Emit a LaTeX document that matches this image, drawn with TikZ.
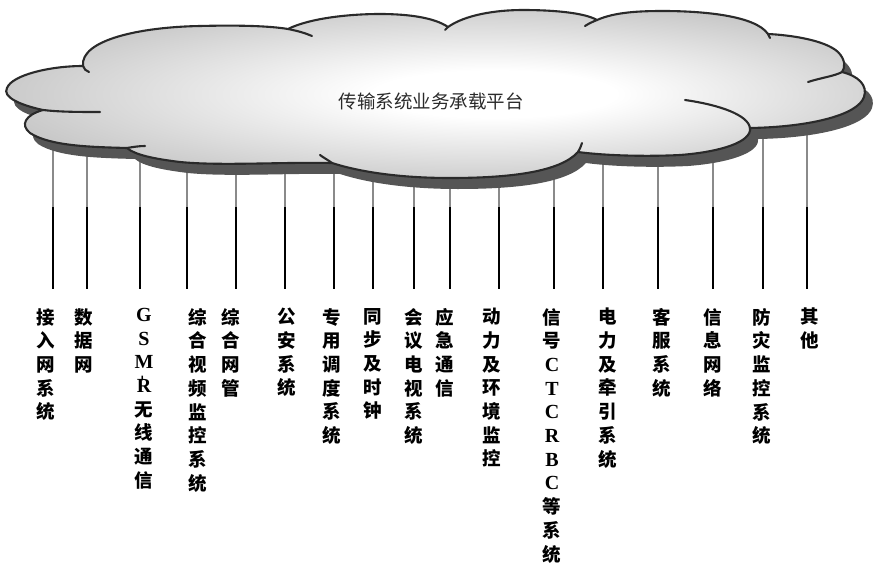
\documentclass[tikz,border=0pt]{standalone}
\usepackage{fontspec}
\setmainfont{Liberation Serif}
\newfontfamily\cjk{Noto Sans CJK SC}
\definecolor{outl}{HTML}{2A2A2A}
\definecolor{shad}{HTML}{555555}
\definecolor{ttl}{HTML}{2A2A2A}
\definecolor{upline}{HTML}{8A8A8A}
\pgfdeclareradialshading{cloudshade}{\pgfpoint{4bp}{0bp}}{color(0bp)=(white); color(7bp)=(white); color(30bp)=(black!24); color(50bp)=(black!28)}
\newcommand{\lat}[1]{{\rmfamily\bfseries\fontsize{20}{23.7}\selectfont #1}}
\tikzset{
  lab/.style={anchor=north, align=center, inner sep=0pt, font=\cjk\bfseries\fontsize{18.5}{23.7}\selectfont},
  uppart/.style={draw=upline, line width=1.2pt},
  lowpart/.style={draw=black, line width=1.5pt},
  outline/.style={draw=outl, line width=2.1pt, line cap=round},
}
\begin{document}
\begin{tikzpicture}[x=1pt,y=-1pt]
\useasboundingbox (0,0) rectangle (873,565);
% connector coordinates
\foreach \i/\x in {1/53,2/87,3/140,4/187,5/236,6/285,7/334,8/373,9/414,10/450,11/499,12/554,13/603,14/658,15/713,16/763,17/807}{
  \coordinate (t\i) at (\x,120);
  \coordinate (m\i) at (\x,207);
  \coordinate (b\i) at (\x,289);
}
\foreach \i in {1,...,17}{
  \draw[uppart] (t\i) -- (m\i);
  \draw[lowpart] (m\i) -- (b\i);
}
% shadow
\fill[shad, shift={(8,11)}] (83,66) .. controls (80,40) and (140,27) .. (200,26) .. controls (240,25) and (270,26) .. (288,29) .. controls (310,18) and (350,14) .. (380,14) .. controls (410,14) and (435,18) .. (448,27) .. controls (465,15) and (495,10) .. (523,10) .. controls (555,10) and (585,13) .. (597,20) .. controls (615,12) and (640,11) .. (663,11) .. controls (700,11) and (755,15) .. (768,34) .. controls (790,35) and (825,40) .. (838,52) .. controls (846,60) and (845,68) .. (842,72) .. controls (858,76) and (868,85) .. (864,97) .. controls (858,115) and (810,127) .. (750,128) .. controls (752,142) and (720,152) .. (680,155) .. controls (640,157) and (600,155) .. (578,152) .. controls (560,172) and (510,178) .. (450,178) .. controls (400,178) and (360,172) .. (332,163) .. controls (280,162) and (220,166) .. (180,162) .. controls (155,159) and (135,155) .. (127,148) .. controls (90,147) and (50,146) .. (30,133) .. controls (20,125) and (25,115) .. (43,110) .. controls (20,105) and (2,97) .. (7,88) .. controls (12,75) and (50,66) .. (83,66) -- cycle;
% cloud
\path[shading=cloudshade, outline] (83,66) .. controls (80,40) and (140,27) .. (200,26) .. controls (240,25) and (270,26) .. (288,29) .. controls (310,18) and (350,14) .. (380,14) .. controls (410,14) and (435,18) .. (448,27) .. controls (465,15) and (495,10) .. (523,10) .. controls (555,10) and (585,13) .. (597,20) .. controls (615,12) and (640,11) .. (663,11) .. controls (700,11) and (755,15) .. (768,34) .. controls (790,35) and (825,40) .. (838,52) .. controls (846,60) and (845,68) .. (842,72) .. controls (858,76) and (868,85) .. (864,97) .. controls (858,115) and (810,127) .. (750,128) .. controls (752,142) and (720,152) .. (680,155) .. controls (640,157) and (600,155) .. (578,152) .. controls (560,172) and (510,178) .. (450,178) .. controls (400,178) and (360,172) .. (332,163) .. controls (280,162) and (220,166) .. (180,162) .. controls (155,159) and (135,155) .. (127,148) .. controls (90,147) and (50,146) .. (30,133) .. controls (20,125) and (25,115) .. (43,110) .. controls (20,105) and (2,97) .. (7,88) .. controls (12,75) and (50,66) .. (83,66) -- cycle;
% lobe tails
\draw[outline] (83,66) .. controls (84,69) and (86,71) .. (89,72);
\draw[outline] (288,29) .. controls (298,31) and (305,33) .. (312,36);
\draw[outline] (448,27) -- (445,30);
\draw[outline] (597,20) .. controls (592,22) and (588,24) .. (585,26);
\draw[outline] (768,34) -- (770,38);
\draw[outline] (842,72) .. controls (835,76) and (820,78) .. (808,82);
\draw[outline] (750,128) .. controls (748,115) and (720,105) .. (685,100);
\draw[outline] (578,152) .. controls (580,149) and (581,146) .. (582,143);
\draw[outline] (332,163) .. controls (328,160) and (324,158) .. (320,155);
\draw[outline] (127,148) .. controls (133,147) and (139,146) .. (145,146);
\draw[outline] (43,110) .. controls (60,112) and (80,112) .. (100,112);
% title
\node[font=\cjk\fontsize{18.5}{20}\selectfont, text=ttl, inner sep=0pt] (title) at (431,101) {传输系统业务承载平台};
% labels
\node[lab] (l1) at (46,308) {接\\入\\网\\系\\统};
\node[lab] (l2) at (84,308) {数\\据\\网};
\node[lab] (l3) at (144,308) {\lat{G}\\\lat{S}\\\lat{M}\\\lat{R}\\无\\线\\通\\信};
\node[font=\rmfamily\bfseries\fontsize{18}{18}\selectfont, rotate=90, inner sep=0pt] (hy) at (144,378) {-};
\node[lab] (l4) at (198,308) {综\\合\\视\\频\\监\\控\\系\\统};
\node[lab] (l5) at (231,308) {综\\合\\网\\管};
\node[lab] (l6) at (287,308) {公\\安\\系\\统};
\node[lab] (l7) at (332,308) {专\\用\\调\\度\\系\\统};
\node[lab] (l8) at (373,308) {同\\步\\及\\时\\钟};
\node[lab] (l9) at (414,308) {会\\议\\电\\视\\系\\统};
\node[lab] (l10) at (445,308) {应\\急\\通\\信};
\node[lab] (l11) at (492,308) {动\\力\\及\\环\\境\\监\\控};
\node[lab] (l12) at (552,308) {信\\号\\\lat{C}\\\lat{T}\\\lat{C}\\\lat{R}\\\lat{B}\\\lat{C}\\等\\系\\统};
\node[lab] (l13) at (608,308) {电\\力\\及\\牵\\引\\系\\统};
\node[lab] (l14) at (662,308) {客\\服\\系\\统};
\node[lab] (l15) at (713,308) {信\\息\\网\\络};
\node[lab] (l16) at (762,308) {防\\灾\\监\\控\\系\\统};
\node[lab] (l17) at (810,308) {其\\他};
\end{tikzpicture}
\end{document}
